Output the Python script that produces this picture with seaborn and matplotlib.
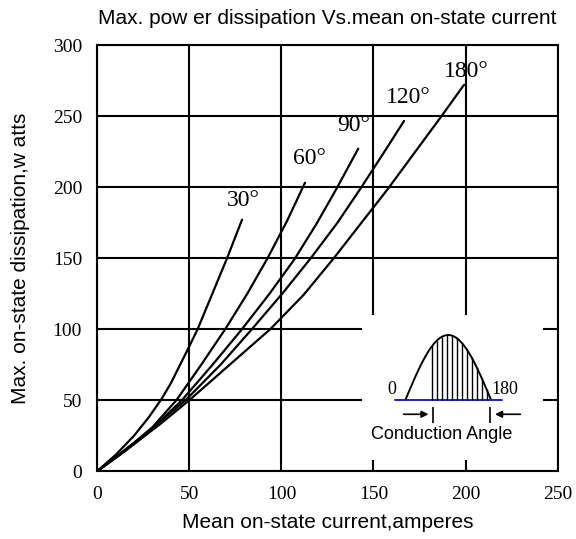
import numpy as np
import pandas as pd
import seaborn as sns
import matplotlib.pyplot as plt
from matplotlib.patches import Rectangle

# curve points (current A, dissipation W)
x_30 = [0, 10, 20, 28, 35, 40, 45, 50, 54.5, 62.5, 70.5, 78.6]
y_30 = [0, 11.5, 25, 38, 51, 62, 75, 88, 100, 125, 150, 177]
x_60 = [0, 15, 30, 43, 56.5, 69.5, 81.5, 92.5, 103, 112.8]
y_60 = [0, 14.5, 31, 50, 75, 100, 125, 150, 176, 203]
x_90 = [0, 15, 30, 46, 62, 78, 93, 107, 119, 130, 141.7]
y_90 = [0, 14, 30, 50, 74, 99, 124, 149, 174, 199, 227]
x_120 = [0, 25, 48, 67, 84, 100.5, 116, 130.5, 143.5, 156, 166.6]
y_120 = [0, 25, 50, 75, 100, 125, 150, 175, 200, 225, 246.5]
x_180 = [0, 20, 35, 50, 72, 94, 112, 128.5, 158, 187, 199.2]
y_180 = [0, 19, 34, 50, 75, 100, 124, 150, 199, 250, 272]

angle_labels = ["30°", "60°", "90°", "120°", "180°"]
label_x = [79.3, 115, 139.3, 169, 200.6]
label_y = [190.8, 220, 243, 263, 281.2]

xticks = [0, 50, 100, 150, 200, 250]
yticks = [0, 50, 100, 150, 200, 250, 300]

curves = [(x_30, y_30), (x_60, y_60), (x_90, y_90), (x_120, y_120), (x_180, y_180)]

sns.set_style("white", {"text.color": "black", "axes.labelcolor": "black",
                        "xtick.color": "black", "ytick.color": "black"})
plt.rcParams["font.family"] = ["Liberation Sans", "DejaVu Sans"]

fig = plt.figure(figsize=(5.76, 5.39), dpi=100)
ax = fig.add_axes([0.169, 0.126, 0.799, 0.7905])

for xs, ys in curves:
    df = pd.DataFrame({"current": xs, "power": ys})
    sns.lineplot(data=df, x="current", y="power", sort=False, color="black",
                 lw=1.6, ax=ax, zorder=3)

for lab, lx, ly in zip(angle_labels, label_x, label_y):
    ax.text(lx, ly, lab, ha="center", va="center", fontsize=17,
            family="Liberation Serif", zorder=4)

ax.set_xlim(0, 250)
ax.set_ylim(0, 300)
ax.set_xticks(xticks)
ax.set_yticks(yticks)
ax.set_axisbelow(True)
ax.grid(True, color="black", lw=1.5)
ax.tick_params(direction="in", length=4, color="black", labelcolor="black",
               labelsize=14)
ax.tick_params(axis="x", pad=11)
ax.tick_params(axis="y", pad=11)
for lbl in ax.get_xticklabels() + ax.get_yticklabels():
    lbl.set_family("Liberation Serif")
for s in ax.spines.values():
    s.set_color("black")
    s.set_linewidth(1.5)
    s.set_zorder(5)

# white box holding the inset sketch
ax.add_patch(Rectangle((143.8, 8), 242 - 143.8, 110 - 8, facecolor="white",
                       edgecolor="none", zorder=1))

# conduction angle sketch
x0, x1, base, peak = 167.3, 213.9, 50, 95.8
hx = np.linspace(x0, x1, 80)
hy = base + (peak - base) * np.sin(np.pi * (hx - x0) / (x1 - x0))
ax.plot(hx, hy, color="black", lw=1.4, zorder=3)
ax.plot([161.9, 220], [base, base], color="#2020b0", lw=1.4, zorder=3)
vx = np.arange(181.7, x1, 2.7)
vy = base + (peak - base) * np.sin(np.pi * (vx - x0) / (x1 - x0))
ax.vlines(vx, base, vy, color="black", lw=1.0, zorder=3)
ax.vlines([182.3, 213.3], 33.6, 45.3, color="black", lw=1.2, zorder=3)
ax.annotate("", xy=(181.4, 40), xytext=(164.9, 40),
            arrowprops=dict(arrowstyle="-|>", color="black", lw=1.2), zorder=3)
ax.annotate("", xy=(214.5, 40), xytext=(231.3, 40),
            arrowprops=dict(arrowstyle="-|>", color="black", lw=1.2), zorder=3)
ax.text(160, 57.7, "0", ha="center", va="center", fontsize=13,
        family="Liberation Serif", zorder=4)
ax.text(221.5, 57.7, "180", ha="center", va="center", fontsize=13,
        family="Liberation Serif", zorder=4)
ax.text(186.8, 26, "Conduction Angle", ha="center", va="center", fontsize=13,
        zorder=4)

ax.set_title("Max. pow er dissipation Vs.mean on-state current", fontsize=15,
             pad=15, color="black")
ax.set_xlabel("Mean on-state current,amperes", fontsize=15, labelpad=7)
ax.set_ylabel("Max. on-state dissipation,w atts", fontsize=15, labelpad=16)

fig.savefig("out.png", dpi=100)
